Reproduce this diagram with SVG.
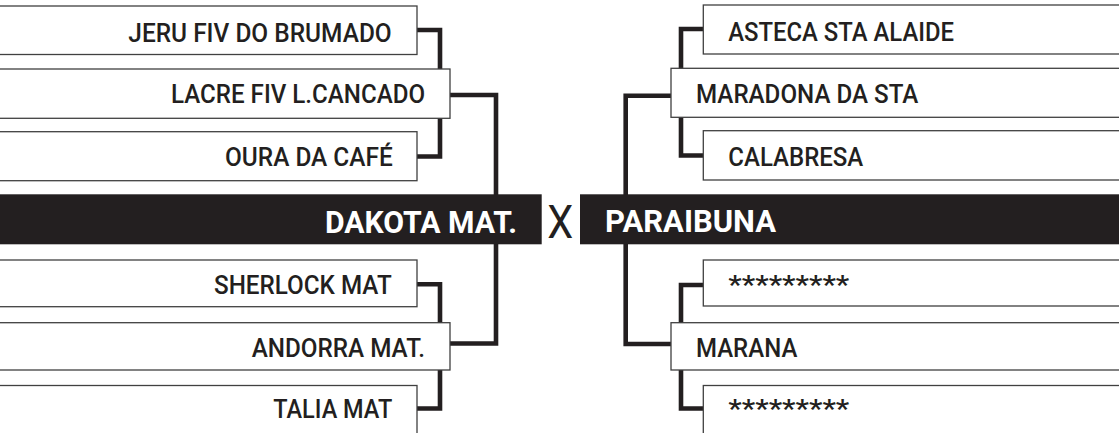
<svg xmlns="http://www.w3.org/2000/svg" width="1119" height="433" viewBox="0 0 1119 433">
<style>
.bg{fill:#ffffff}
.box{fill:#ffffff;stroke:#404040;stroke-width:1.3}
.bar{fill:#231f20}
.lbl{font-family:Roboto,"Liberation Sans",sans-serif;font-size:25px;font-weight:500;fill:#231f20}
.big{font-family:Roboto,"Liberation Sans",sans-serif;font-size:32px;font-weight:bold;fill:#ffffff}
.vs{font-family:Roboto,"Liberation Sans",sans-serif;font-size:47px;fill:#231f20}
.con{fill:none;stroke:#231f20;stroke-width:4.6;stroke-linejoin:miter;stroke-linecap:butt}
</style>
<rect class="bg" x="0" y="0" width="1119" height="433"/>
<g id="connectors">
<path class="con" d="M417,30 H440 V156.5 H417"/>
<path class="con" d="M450,95 H496 V343.5 H450"/>
<path class="con" d="M417,284.3 H440 V408.5 H417"/>
<path class="con" d="M703,29 H681 V155.5 H703"/>
<path class="con" d="M671,95.7 H625.7 V344 H671"/>
<path class="con" d="M703,285 H681 V408.5 H703"/>
</g>
<g id="n-jeru"><rect class="box" x="-5" y="6" width="422" height="48.5"/><text class="lbl" x="128.3" y="41.7" textLength="263.4" lengthAdjust="spacingAndGlyphs">JERU FIV DO BRUMADO</text></g>
<g id="n-lacre"><rect class="box" x="-5" y="69" width="455" height="49.3"/><text class="lbl" x="171" y="103.3" textLength="254" lengthAdjust="spacingAndGlyphs">LACRE FIV L.CANCADO</text></g>
<g id="n-oura"><rect class="box" x="-5" y="131.7" width="422" height="49"/><text class="lbl" x="225" y="165.7" textLength="167.7" lengthAdjust="spacingAndGlyphs">OURA DA CAFÉ</text></g>
<g id="n-dakota"><rect class="bar" x="-5" y="194.3" width="546.7" height="50"/><text class="big" x="325" y="232.8" textLength="192" lengthAdjust="spacingAndGlyphs">DAKOTA MAT.</text></g>
<g id="n-sherlock"><rect class="box" x="-5" y="260" width="422" height="46.7"/><text class="lbl" x="214" y="294.3" textLength="177.7" lengthAdjust="spacingAndGlyphs">SHERLOCK MAT</text></g>
<g id="n-andorra"><rect class="box" x="-5" y="322.7" width="455" height="47.3"/><text class="lbl" x="251.7" y="356.7" textLength="173.3" lengthAdjust="spacingAndGlyphs">ANDORRA MAT.</text></g>
<g id="n-talia"><rect class="box" x="-5" y="385.5" width="422" height="60"/><text class="lbl" x="273.3" y="418.3" textLength="119" lengthAdjust="spacingAndGlyphs">TALIA MAT</text></g>
<g id="vs"><text class="vs" x="547.3" y="237.7" textLength="26" lengthAdjust="spacingAndGlyphs">X</text></g>
<g id="n-asteca"><rect class="box" x="703.3" y="5" width="430" height="49"/><text class="lbl" x="728.3" y="41" textLength="225.7" lengthAdjust="spacingAndGlyphs">ASTECA STA ALAIDE</text></g>
<g id="n-maradona"><rect class="box" x="671" y="68.3" width="460" height="49"/><text class="lbl" x="696" y="103.3" textLength="222.3" lengthAdjust="spacingAndGlyphs">MARADONA DA STA</text></g>
<g id="n-calabresa"><rect class="box" x="703.3" y="130.7" width="430" height="49.3"/><text class="lbl" x="728.3" y="165.7" textLength="135" lengthAdjust="spacingAndGlyphs">CALABRESA</text></g>
<g id="n-paraibuna"><rect class="bar" x="580" y="194.3" width="545" height="50"/><text class="big" x="605" y="232.3" textLength="171" lengthAdjust="spacingAndGlyphs">PARAIBUNA</text></g>
<g id="n-star1"><rect class="box" x="703.3" y="260" width="430" height="46"/><text class="lbl" x="728.3" y="294.3" textLength="121" lengthAdjust="spacingAndGlyphs">*********</text></g>
<g id="n-marana"><rect class="box" x="671" y="322.7" width="460" height="47.3"/><text class="lbl" x="696" y="356.7" textLength="101.3" lengthAdjust="spacingAndGlyphs">MARANA</text></g>
<g id="n-star2"><rect class="box" x="703.3" y="385.5" width="430" height="60"/><text class="lbl" x="728.3" y="418.3" textLength="121" lengthAdjust="spacingAndGlyphs">*********</text></g>
</svg>
